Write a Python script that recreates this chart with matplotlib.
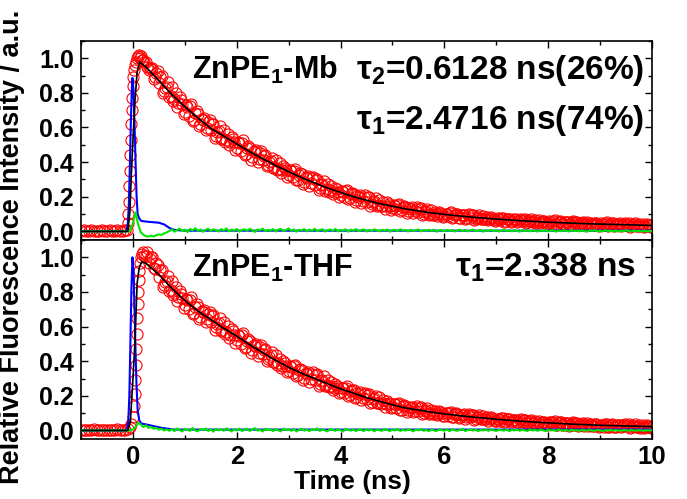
import numpy as np
import matplotlib
matplotlib.use("Agg")
import matplotlib.pyplot as plt
from matplotlib.ticker import MultipleLocator

plt.rcParams['font.family'] = ['Liberation Sans', 'DejaVu Sans']
plt.rcParams['font.weight'] = 'bold'
plt.rcParams['mathtext.fontset'] = 'custom'
plt.rcParams['mathtext.rm'] = 'Liberation Sans:bold'
plt.rcParams['mathtext.it'] = 'Liberation Sans:bold'
plt.rcParams['mathtext.bf'] = 'Liberation Sans:bold'

# --- DATA: ZnPE1-Mb (top panel) ---
# red circles: baseline (t = -1.0 .. -0.15, step 0.05)
mb_base = [0.003, 0.005, 0.002, 0.004, 0.006, 0.003, 0.004, 0.002, 0.005,
           0.004, 0.003, 0.006, 0.002, 0.004, 0.005, 0.003, 0.004, 0.006]
# red circles: rising edge
mb_rise_t = [-0.12, -0.1, -0.09, -0.08, -0.07, -0.06, -0.05, -0.04, -0.03, -0.02, -0.01, 0.0,
             0.01, 0.02, 0.04, 0.06, 0.08, 0.1, 0.12, 0.14, 0.16, 0.18, 0.2, 0.22]
mb_rise = [0.01, 0.05, 0.1, 0.17, 0.26, 0.35, 0.44, 0.53, 0.62, 0.7, 0.77, 0.84,
           0.89, 0.93, 0.96, 0.98, 1.0, 1.01, 1.02, 1.0, 1.01, 0.99, 0.99, 0.98]
# red circles: decay, even channels (t = 0.25 .. 10.0, step 0.05)
mb_decay = [
    0.98, 0.93, 0.94, 0.88, 0.915,  0.856, 0.896, 0.81, 0.836, 0.778,
    0.832, 0.762, 0.72, 0.776, 0.734,  0.692, 0.721, 0.722, 0.639, 0.682,
    0.679, 0.619, 0.643, 0.583, 0.631,  0.583, 0.622, 0.553, 0.58, 0.535,
    0.586, 0.529, 0.496, 0.547, 0.514,  0.481, 0.508, 0.511, 0.442, 0.481,
    0.484, 0.428, 0.456, 0.40, 0.452,  0.41, 0.442, 0.384, 0.406, 0.368,
    0.41, 0.363, 0.336, 0.379, 0.352,  0.325, 0.348, 0.351, 0.294, 0.327,
    0.33, 0.284, 0.308, 0.262, 0.306,  0.27, 0.304, 0.248, 0.272, 0.236,
    0.274, 0.237, 0.216, 0.251, 0.23,  0.209, 0.228, 0.231, 0.186, 0.213,
    0.216, 0.18, 0.20, 0.164, 0.20,  0.172, 0.20, 0.156, 0.176, 0.148,
    0.184, 0.149, 0.13, 0.167, 0.148,  0.133, 0.148, 0.151, 0.118, 0.139,
    0.142, 0.116, 0.131, 0.105, 0.132,  0.112, 0.134, 0.102, 0.117, 0.097,
    0.122, 0.10, 0.088, 0.112, 0.10,  0.088, 0.101, 0.105, 0.078, 0.097,
    0.10, 0.079, 0.092, 0.071, 0.094,  0.079, 0.094, 0.073, 0.083, 0.07,
    0.089, 0.072, 0.063, 0.082, 0.073,  0.063, 0.074, 0.077, 0.056, 0.071,
    0.072, 0.059, 0.067, 0.054, 0.068,  0.058, 0.069, 0.053, 0.061, 0.052,
    0.066, 0.053, 0.046, 0.06, 0.054,  0.047, 0.055, 0.058, 0.042, 0.053,
    0.056, 0.043, 0.052, 0.039, 0.053,  0.044, 0.055, 0.04, 0.048, 0.039,
    0.053, 0.041, 0.034, 0.049, 0.042,  0.036, 0.045, 0.047, 0.032, 0.043,
    0.046, 0.034, 0.042, 0.03, 0.044,  0.035, 0.047, 0.031, 0.04, 0.03,
    0.045, 0.033, 0.026, 0.041, 0.034,  0.034]
# red circles: decay, odd channels (t = 0.275 .. 9.975, step 0.05)
mb_decay_odd = [
    0.95, 0.945, 0.945, 0.89, 0.925,  0.894, 0.798, 0.83, 0.862, 0.782,
    0.751, 0.801, 0.739, 0.757, 0.679,  0.73, 0.669, 0.736, 0.643, 0.694,
    0.607, 0.651, 0.653, 0.599, 0.643,  0.619, 0.54, 0.573, 0.606, 0.541,
    0.518, 0.565, 0.514, 0.533, 0.468,  0.515, 0.464, 0.525, 0.446, 0.493,
    0.414, 0.462, 0.468, 0.418, 0.466,  0.438, 0.375, 0.40, 0.425, 0.373,
    0.355, 0.392, 0.352, 0.367, 0.316,  0.353, 0.313, 0.361, 0.299, 0.336,
    0.274, 0.312, 0.317, 0.278, 0.316,  0.299, 0.238, 0.265, 0.292, 0.242,
    0.23, 0.261, 0.229, 0.242, 0.201,  0.232, 0.20, 0.24, 0.19, 0.221,
    0.171, 0.203, 0.208, 0.177, 0.209,  0.196, 0.147, 0.17, 0.193, 0.153,
    0.145, 0.17, 0.146, 0.157, 0.126,  0.151, 0.127, 0.159, 0.121, 0.146,
    0.108, 0.134, 0.138, 0.115, 0.14,  0.131, 0.094, 0.113, 0.131, 0.101,
    0.096, 0.114, 0.098, 0.106, 0.084,  0.102, 0.086, 0.109, 0.083, 0.101,
    0.075, 0.093, 0.097, 0.08, 0.099,  0.093, 0.067, 0.08, 0.094, 0.073,
    0.07, 0.083, 0.072, 0.078, 0.062,  0.075, 0.063, 0.08, 0.061, 0.074,
    0.056, 0.069, 0.071, 0.06, 0.073,  0.068, 0.05, 0.059, 0.069, 0.054,
    0.05, 0.063, 0.052, 0.058, 0.044,  0.057, 0.045, 0.063, 0.044, 0.057,
    0.04, 0.053, 0.055, 0.045, 0.058,  0.054, 0.036, 0.046, 0.056, 0.04,
    0.037, 0.051, 0.04, 0.046, 0.032,  0.046, 0.035, 0.052, 0.034, 0.047,
    0.03, 0.044, 0.046, 0.036, 0.049,  0.045, 0.028, 0.037, 0.048, 0.032,
    0.029, 0.043, 0.032, 0.038, 0.024]
# black fit
mb_fit_t = [-1.0, -0.1, -0.06, -0.03, 0.0, 0.04, 0.08, 0.13, 0.25, 0.5, 0.75, 1.0, 1.25,
            1.5, 1.75, 2.0, 2.25, 2.5, 2.75, 3.0, 3.25, 3.5, 3.75, 4.0, 4.25, 4.5, 4.75,
            5.0, 5.25, 5.5, 5.75, 6.0, 6.25, 6.5, 6.75, 7.0, 7.25, 7.5, 7.75, 8.0, 8.25,
            8.5, 8.75, 9.0, 9.25, 9.5, 9.75, 10.0]
mb_fit = [0.0, 0.0, 0.11, 0.34, 0.53, 0.76, 0.92, 0.978, 0.95, 0.87, 0.79, 0.72, 0.655,
          0.595, 0.55, 0.505, 0.46, 0.42, 0.38, 0.345, 0.31, 0.28, 0.25, 0.225, 0.2, 0.18, 0.16,
          0.145, 0.13, 0.118, 0.107, 0.098, 0.09, 0.083, 0.077, 0.071, 0.066, 0.061, 0.057,
          0.053, 0.05, 0.047, 0.044, 0.042, 0.04, 0.038, 0.036, 0.034]
# blue instrument response
mb_irf_t = [-1.0, -0.13, -0.1, -0.08, -0.06, -0.04, -0.02, -0.01, 0.01, 0.03, 0.05, 0.07,
            0.09, 0.12, 0.16, 0.3, 0.5, 0.6, 0.7, 0.8, 1.0, 10.0]
mb_irf = [0.0, 0.0, 0.04, 0.15, 0.38, 0.64, 0.84, 0.886, 0.82, 0.62, 0.4, 0.2,
          0.1, 0.075, 0.06, 0.055, 0.05, 0.04, 0.02, 0.008, 0.004, 0.004]
# green residuals (t = -1.0 .. 10.0, step 0.05)
mb_res = [0.0] * 19 + [
    0.005, 0.05, 0.11, 0.04, -0.005, -0.02, -0.028, -0.03, -0.025, -0.03, -0.022,
    -0.018, -0.02, -0.012, -0.006, 0.002,
    0.012, -0.002, 0.008, 0.016, 0.001, 0.010, -0.004, 0.014, 0.006, 0.018,
    0.003, 0.011, -0.003, 0.009, 0.015, 0.002, 0.012, 0.007, -0.001, 0.013,
    0.005, 0.017, 0.000, 0.010, 0.004, 0.014, -0.002, 0.008, 0.012, 0.003,
    0.015, 0.006, -0.003, 0.011, 0.007, 0.016, 0.001, 0.009, 0.004, 0.013,
    -0.001, 0.010, 0.014, 0.002, 0.008, 0.017, 0.003, 0.011, -0.002, 0.009,
    0.006, 0.013, 0.000, 0.010, 0.004, 0.015, 0.002, 0.008, 0.012, -0.001,
    0.007, 0.011, 0.003, 0.014, 0.000, 0.009, 0.005, 0.012, -0.002, 0.010,
    0.004, 0.013, 0.001, 0.008, 0.011, -0.001, 0.009, 0.003, 0.012, 0.006,
    0.000, 0.010, 0.004, 0.011, -0.002, 0.007, 0.009, 0.002, 0.012, 0.005,
    0.008, -0.001, 0.010, 0.003, 0.006, 0.011, 0.000, 0.007, 0.004, 0.009,
    0.002, 0.010, -0.002, 0.006, 0.008, 0.001, 0.009, 0.003, 0.007, -0.001,
    0.005, 0.009, 0.002, 0.008, 0.000, 0.006, 0.010, 0.001, 0.004, 0.008,
    -0.002, 0.006, 0.003, 0.009, 0.001, 0.007, -0.001, 0.005, 0.008, 0.002,
    0.006, 0.000, 0.007, 0.003, -0.002, 0.008, 0.002, 0.005, 0.000, 0.007,
    0.003, -0.001, 0.006, 0.002, 0.008, 0.000, 0.004, 0.007, -0.002, 0.005,
    0.001, 0.006, 0.003, -0.001, 0.007, 0.002, 0.004, 0.000, 0.006, 0.001,
    -0.002, 0.005, 0.003, 0.007, 0.000, 0.004, -0.001, 0.006, 0.002, 0.003,
    0.000, 0.005, -0.002, 0.004, 0.001, 0.006, 0.002, -0.001, 0.004, 0.001,
    0.003, -0.001, 0.005, 0.000, 0.002, 0.001]

# --- DATA: ZnPE1-THF (bottom panel) ---
thf_base = [0.004, 0.002, 0.005, 0.003, 0.004, 0.006, 0.002, 0.003, 0.005,
            0.004, 0.002, 0.005, 0.003, 0.004, 0.006, 0.003, 0.005, 0.004]
thf_rise_t = [-0.1, -0.06, -0.03, 0.0, 0.02, 0.03, 0.04, 0.05, 0.06, 0.07, 0.08, 0.09,
              0.1, 0.11, 0.12, 0.14, 0.16, 0.18, 0.2, 0.22]
thf_rise = [0.01, 0.02, 0.04, 0.08, 0.14, 0.21, 0.29, 0.38, 0.47, 0.56, 0.65, 0.73,
            0.8, 0.87, 0.92, 0.97, 1.0, 1.02, 1.03, 1.01]
thf_decay = [
    1.01, 0.97, 1.0, 0.94, 0.965,  0.886, 0.926, 0.84, 0.866, 0.808,
    0.862, 0.792, 0.75, 0.806, 0.764,  0.722, 0.752, 0.754, 0.672, 0.716,
    0.714, 0.656, 0.682, 0.624, 0.674,  0.628, 0.666, 0.596, 0.622, 0.576,
    0.626, 0.569, 0.536, 0.587, 0.554,  0.521, 0.547, 0.549, 0.479, 0.517,
    0.519, 0.462, 0.489, 0.432, 0.483,  0.44, 0.471, 0.412, 0.433, 0.394,
    0.435, 0.387, 0.359, 0.401, 0.373,  0.345, 0.368, 0.371, 0.314, 0.347,
    0.35, 0.304, 0.328, 0.282, 0.326,  0.29, 0.324, 0.268, 0.292, 0.256,
    0.294, 0.256, 0.234, 0.268, 0.246,  0.224, 0.243, 0.246, 0.201, 0.228,
    0.231, 0.194, 0.213, 0.176, 0.211,  0.182, 0.21, 0.165, 0.185, 0.156,
    0.192, 0.156, 0.136, 0.172, 0.152,  0.136, 0.15, 0.153, 0.119, 0.14,
    0.142, 0.116, 0.131, 0.105, 0.132,  0.112, 0.134, 0.101, 0.117, 0.096,
    0.121, 0.099, 0.087, 0.11, 0.098,  0.086, 0.099, 0.102, 0.076, 0.094,
    0.097, 0.075, 0.089, 0.067, 0.091,  0.075, 0.09, 0.068, 0.079, 0.065,
    0.084, 0.067, 0.057, 0.076, 0.066,  0.057, 0.068, 0.071, 0.049, 0.064,
    0.065, 0.052, 0.059, 0.046, 0.06,  0.05, 0.061, 0.045, 0.053, 0.043,
    0.057, 0.044, 0.037, 0.051, 0.045,  0.038, 0.046, 0.048, 0.032, 0.044,
    0.046, 0.033, 0.041, 0.028, 0.043,  0.033, 0.044, 0.029, 0.037, 0.028,
    0.042, 0.03, 0.023, 0.037, 0.031,  0.024, 0.033, 0.035, 0.02, 0.031,
    0.034, 0.022, 0.03, 0.018, 0.032,  0.023, 0.035, 0.019, 0.028, 0.018,
    0.033, 0.021, 0.014, 0.029, 0.022,  0.022]
thf_decay_odd = [
    1.03, 0.99, 1.0, 0.93, 0.955,  0.924, 0.828, 0.86, 0.892, 0.812,
    0.781, 0.831, 0.769, 0.787, 0.709,  0.76, 0.70, 0.768, 0.676, 0.728,
    0.643, 0.689, 0.693, 0.641, 0.687,  0.663, 0.583, 0.615, 0.647, 0.581,
    0.557, 0.604, 0.553, 0.572, 0.507,  0.554, 0.502, 0.562, 0.482, 0.528,
    0.448, 0.495, 0.50, 0.449, 0.496,  0.467, 0.403, 0.427, 0.451, 0.398,
    0.379, 0.415, 0.374, 0.388, 0.336,  0.372, 0.332, 0.38, 0.318, 0.355,
    0.294, 0.332, 0.337, 0.298, 0.336,  0.319, 0.258, 0.285, 0.312, 0.262,
    0.249, 0.279, 0.246, 0.258, 0.216,  0.246, 0.214, 0.254, 0.204, 0.235,
    0.185, 0.216, 0.22, 0.188, 0.219,  0.206, 0.156, 0.179, 0.201, 0.161,
    0.152, 0.176, 0.151, 0.161, 0.129,  0.153, 0.128, 0.16, 0.121, 0.146,
    0.108, 0.133, 0.138, 0.114, 0.14,  0.131, 0.093, 0.112, 0.13, 0.10,
    0.095, 0.113, 0.096, 0.104, 0.082,  0.10, 0.083, 0.106, 0.08, 0.098,
    0.071, 0.089, 0.093, 0.076, 0.095,  0.088, 0.062, 0.075, 0.089, 0.067,
    0.064, 0.077, 0.065, 0.071, 0.056,  0.068, 0.056, 0.073, 0.053, 0.066,
    0.048, 0.061, 0.062, 0.051, 0.065,  0.059, 0.041, 0.05, 0.06, 0.045,
    0.04, 0.053, 0.042, 0.049, 0.034,  0.047, 0.035, 0.052, 0.034, 0.047,
    0.029, 0.042, 0.044, 0.033, 0.047,  0.042, 0.025, 0.034, 0.045, 0.03,
    0.026, 0.039, 0.028, 0.035, 0.02,  0.034, 0.022, 0.04, 0.021, 0.035,
    0.018, 0.031, 0.034, 0.023, 0.036,  0.033, 0.015, 0.025, 0.035, 0.02,
    0.017, 0.03, 0.019, 0.025, 0.012]
thf_fit_t = [-1.0, -0.1, -0.05, 0.0, 0.04, 0.08, 0.12, 0.17, 0.25, 0.5, 0.75, 1.0, 1.25,
             1.5, 1.75, 2.0, 2.25, 2.5, 2.75, 3.0, 3.25, 3.5, 3.75, 4.0, 4.25, 4.5, 4.75,
             5.0, 5.25, 5.5, 5.75, 6.0, 6.25, 6.5, 6.75, 7.0, 7.25, 7.5, 7.75, 8.0, 8.25,
             8.5, 8.75, 9.0, 9.25, 9.5, 9.75, 10.0]
thf_fit = [0.0, 0.0, 0.05, 0.3, 0.52, 0.85, 0.94, 0.975, 0.965, 0.90, 0.82, 0.75, 0.69,
           0.64, 0.59, 0.545, 0.495, 0.45, 0.405, 0.365, 0.33, 0.30, 0.27, 0.24, 0.215, 0.19,
           0.168, 0.148, 0.13, 0.118, 0.106, 0.096, 0.087, 0.079, 0.072, 0.065, 0.059, 0.053,
           0.048, 0.044, 0.04, 0.036, 0.033, 0.03, 0.028, 0.026, 0.024, 0.022]
thf_irf_t = [-1.0, -0.12, -0.09, -0.07, -0.05, -0.03, -0.01, 0.01, 0.03, 0.05, 0.07, 0.09,
             0.12, 0.16, 0.25, 0.4, 0.55, 0.8, 10.0]
thf_irf = [0.0, 0.0, 0.05, 0.2, 0.5, 0.82, 1.0, 0.93, 0.7, 0.45, 0.25, 0.12,
           0.06, 0.04, 0.035, 0.025, 0.015, 0.005, 0.005]
thf_res = [0.0] * 19 + [
    0.0, 0.005, 0.02, 0.045, 0.035, 0.02, 0.03, 0.015, 0.02, 0.01, 0.015,
    0.005, 0.01, 0.0, 0.006, -0.002,
    0.008, -0.004, 0.012, 0.002, -0.006, 0.010, 0.004, -0.002, 0.014, 0.000,
    -0.005, 0.009, 0.003, 0.011, -0.003, 0.006, -0.007, 0.010, 0.001, 0.007,
    -0.002, 0.012, 0.004, -0.006, 0.008, 0.000, 0.011, -0.004, 0.005, 0.009,
    -0.003, 0.006, 0.013, -0.001, 0.004, -0.006, 0.010, 0.002, 0.007, -0.004,
    0.009, 0.001, -0.005, 0.011, 0.003, 0.006, -0.002, 0.008, -0.006, 0.004,
    0.010, -0.001, 0.005, -0.004, 0.008, 0.002, 0.012, -0.003, 0.006, 0.000,
    -0.005, 0.009, 0.003, -0.002, 0.007, 0.001, -0.006, 0.010, 0.004, -0.001,
    0.006, -0.004, 0.008, 0.002, -0.003, 0.009, 0.000, 0.005, -0.005, 0.007,
    0.001, -0.002, 0.008, 0.003, -0.004, 0.006, 0.000, 0.009, -0.003, 0.004,
    -0.001, 0.007, 0.002, -0.005, 0.005, 0.001, 0.008, -0.002, 0.003, -0.004,
    0.006, 0.000, -0.003, 0.007, 0.002, -0.001, 0.005, -0.004, 0.006, 0.001,
    -0.002, 0.004, 0.008, -0.003, 0.002, 0.005, -0.001, 0.006, -0.004, 0.003,
    0.000, 0.005, -0.002, 0.007, 0.001, -0.003, 0.004, 0.002, -0.001, 0.006,
    -0.004, 0.003, 0.000, 0.005, -0.002, 0.004, 0.001, -0.003, 0.006, 0.000,
    0.003, -0.002, 0.005, 0.001, -0.004, 0.004, 0.000, 0.002, -0.002, 0.005,
    0.001, -0.001, 0.003, -0.003, 0.004, 0.000, 0.002, -0.002, 0.003, 0.001,
    -0.001, 0.004, 0.000, -0.002, 0.003, 0.001, -0.003, 0.002, 0.000, 0.003,
    -0.001, 0.002, 0.000, -0.002, 0.003, 0.001, -0.001, 0.002, 0.000, -0.001,
    0.002, 0.000, -0.001, 0.001, 0.000, 0.001]

x_ticks = [0, 2, 4, 6, 8, 10]
y_ticks = [0.0, 0.2, 0.4, 0.6, 0.8, 1.0]


def plot_panel(ax, base, rise_t, rise, decay, decay_odd, fit_t, fit, irf_t, irf, res):
    base_t = -1.0 + 0.05 * np.arange(len(base))
    decay_t = 0.25 + 0.05 * np.arange(len(decay))
    odd_t = 0.275 + 0.05 * np.arange(len(decay_odd))
    res_t = -1.0 + 0.05 * np.arange(len(res))
    t = np.concatenate([base_t, rise_t, decay_t, odd_t])
    v = np.concatenate([base, rise, decay, decay_odd])
    ax.plot(t, v, 'o', mfc='none', mec='#ff0000', ms=8, mew=0.8, zorder=1)
    ax.plot(irf_t, irf, color='#0000ff', lw=1.5, zorder=2)
    ax.plot(res_t, res, color='#00e600', lw=1.5, zorder=3)
    ax.plot(fit_t, fit, color='black', lw=1.2, zorder=4)

    ax.set_xlim(-1, 10)
    ax.set_ylim(-0.05, 1.1)
    ax.set_xticks(x_ticks)
    ax.set_yticks(y_ticks)
    ax.set_yticklabels(['%.1f' % y for y in y_ticks])
    ax.xaxis.set_minor_locator(MultipleLocator(1))
    ax.yaxis.set_minor_locator(MultipleLocator(0.1))
    ax.tick_params(which='both', direction='in', top=True, right=True, width=1.0)
    ax.tick_params(which='major', length=5)
    ax.tick_params(which='minor', length=3)
    ax.tick_params(axis='y', labelsize=18, pad=5)
    ax.tick_params(axis='x', labelsize=18.5, pad=4)
    for s in ax.spines.values():
        s.set_linewidth(1.2)


fig = plt.figure(figsize=(6.87, 4.99), dpi=100)
ax1 = fig.add_axes([0.118, 0.519, 0.831, 0.399])
ax2 = fig.add_axes([0.118, 0.120, 0.831, 0.399])

plot_panel(ax1, mb_base, mb_rise_t, mb_rise, mb_decay, mb_decay_odd, mb_fit_t, mb_fit,
           mb_irf_t, mb_irf, mb_res)
plot_panel(ax2, thf_base, thf_rise_t, thf_rise, thf_decay, thf_decay_odd, thf_fit_t, thf_fit,
           thf_irf_t, thf_irf, thf_res)
ax1.tick_params(axis='x', labelbottom=False)

name = dict(fontsize=22, fontweight='bold', va='baseline')
tau = dict(fontsize=24, fontweight='bold', va='baseline')
ax1.text(0.194, 0.809, 'ZnPE$_1$-Mb', transform=ax1.transAxes, ha='left', **name)
ax1.text(0.986, 0.809, 'τ$_2$=0.6128 ns(26%)', transform=ax1.transAxes, ha='right', **tau)
ax1.text(0.986, 0.558, 'τ$_1$=2.4716 ns(74%)', transform=ax1.transAxes, ha='right', **tau)
ax2.text(0.194, 0.816, 'ZnPE$_1$-THF', transform=ax2.transAxes, ha='left', **name)
ax2.text(0.972, 0.814, 'τ$_1$=2.338 ns', transform=ax2.transAxes, ha='right', **tau)

ax2.set_xlabel('Time (ns)', fontsize=19, fontweight='bold')
ax2.xaxis.set_label_coords(0.475, -0.156)
fig.text(0.017, 0.505, 'Relative Fluorescence Intensity / a.u.', rotation=90,
         ha='center', va='center', fontsize=19.5, fontweight='bold')

fig.savefig('out.png', dpi=100)
